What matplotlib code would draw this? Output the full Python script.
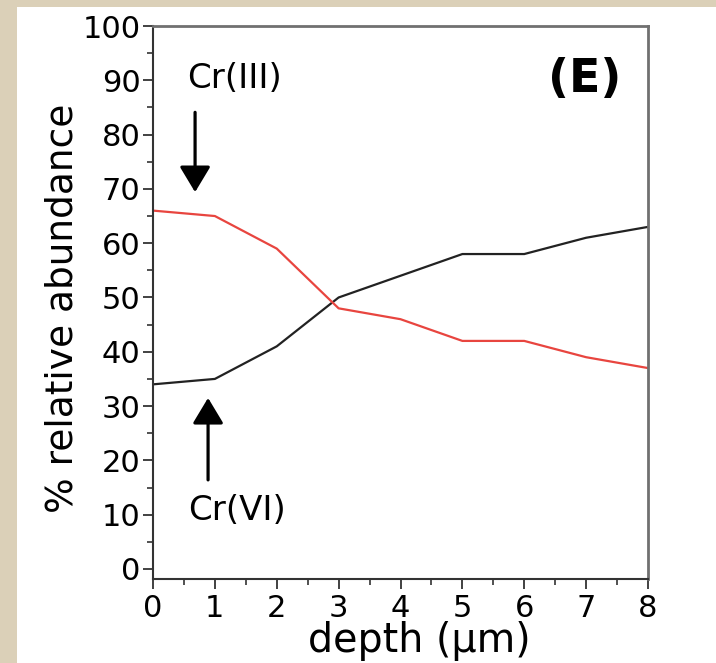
import matplotlib
matplotlib.use("Agg")
import matplotlib.pyplot as plt
from matplotlib.patches import Rectangle

# ---- data ----
depth = [0, 1, 2, 3, 4, 5, 6, 7, 8]
cr_iii = [66, 65, 59, 48, 46, 42, 42, 39, 37]   # red
cr_vi = [34, 35, 41, 50, 54, 58, 58, 61, 63]    # black
xticks = [0, 1, 2, 3, 4, 5, 6, 7, 8]
yticks = [0, 10, 20, 30, 40, 50, 60, 70, 80, 90, 100]

plt.rcParams['font.family'] = ['DejaVu Sans']

W, H = 716, 663
fig = plt.figure(figsize=(W / 100, H / 100), dpi=100)
fig.patch.set_facecolor('#dbd0b8')
fig.patches.append(Rectangle((17 / W, 0), 1 - 17 / W, 1 - 7 / H,
                             transform=fig.transFigure, facecolor='white',
                             edgecolor='none', zorder=-10))

ax = fig.add_axes([153 / W, 84 / H, (648 - 153) / W, (579 - 26) / H])
ax.set_zorder(5)
ax.set_facecolor('white')

ax.plot(depth, cr_vi, color='#222222', lw=1.6)
ax.plot(depth, cr_iii, color='#e8453f', lw=1.6)

ax.set_xlim(0, 8)
ax.set_ylim(-1.85, 100)
ax.set_xticks(xticks)
ax.set_yticks(yticks)
ax.set_xticks([x + 0.5 for x in xticks[:-1]], minor=True)
ax.set_yticks([y + 5 for y in yticks[:-1]], minor=True)
ax.tick_params(axis='both', which='major', direction='out', length=7, width=1.3,
               labelsize=22, color='#333333')
ax.tick_params(axis='x', which='major', pad=4)
ax.tick_params(axis='y', which='major', pad=2)
ax.tick_params(axis='both', which='minor', direction='out', length=4, width=1.2,
               color='#333333')
for s in ['left', 'bottom']:
    ax.spines[s].set_color('#333333')
    ax.spines[s].set_linewidth(1.5)
for s in ['top', 'right']:
    ax.spines[s].set_color('#707070')
    ax.spines[s].set_linewidth(2)

ax.set_xlabel('depth (μm)', fontsize=28.5, va='baseline')
ax.xaxis.set_label_coords(0.537, -0.132)
ax.set_ylabel('% relative abundance', fontsize=27, va='center')
ax.yaxis.set_label_coords(-0.182, 0.49)

ax.text(1.32, 90.4, 'Cr(III)', fontsize=24.5, ha='center', va='center')
ax.text(1.36, 10.7, 'Cr(VI)', fontsize=24.5, ha='center', va='center')
ax.text(6.98, 90.2, '(E)', fontsize=33, fontweight='bold', ha='center', va='center')

arrow_style = '-|>,head_length=1.58,head_width=0.95'
ax.annotate('', xy=(0.68, 69.4), xytext=(0.68, 84.1),
            arrowprops=dict(arrowstyle=arrow_style, mutation_scale=10, lw=2.3,
                            color='black', shrinkA=0, shrinkB=0))
ax.annotate('', xy=(0.89, 31.5), xytext=(0.89, 16.4),
            arrowprops=dict(arrowstyle=arrow_style, mutation_scale=10, lw=2.3,
                            color='black', shrinkA=0, shrinkB=0))

fig.savefig('out.png', dpi=100, facecolor=fig.get_facecolor())
